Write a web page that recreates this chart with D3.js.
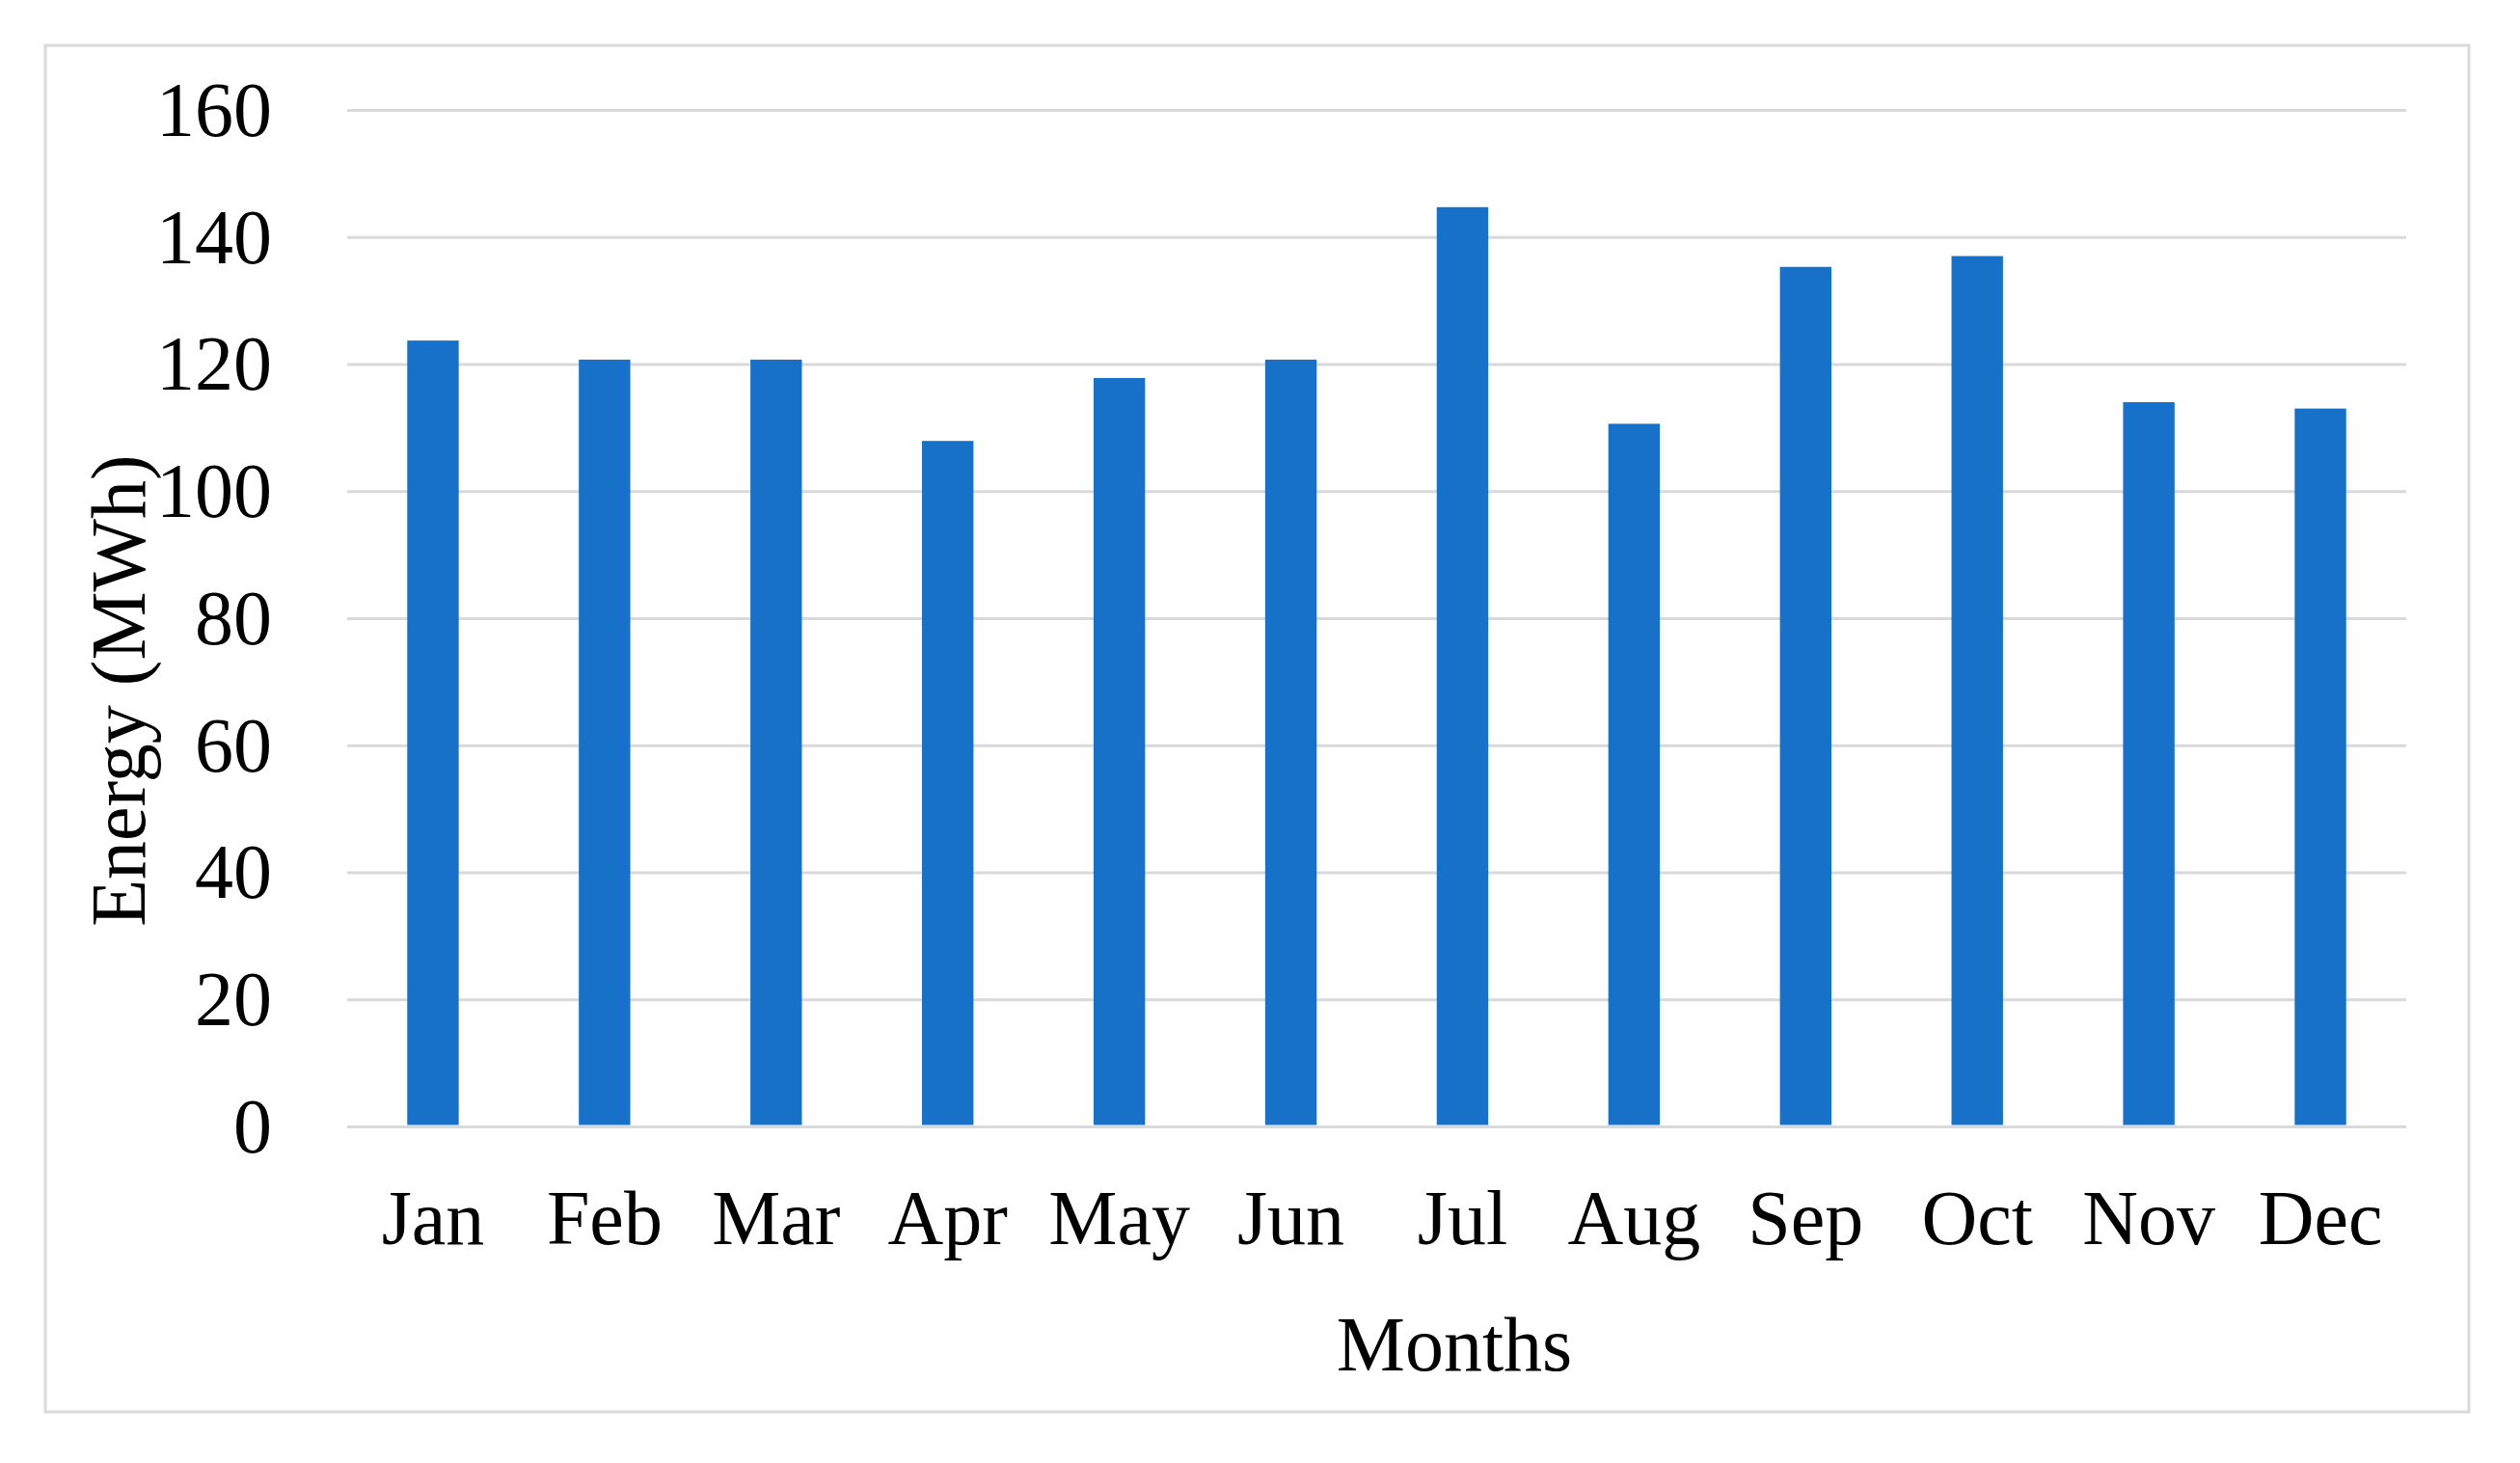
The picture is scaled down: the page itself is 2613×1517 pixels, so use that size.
<!DOCTYPE html>
<html>
<head>
<meta charset="utf-8">
<script src="https://cdn.jsdelivr.net/npm/d3@7"></script>
<style>
  html, body { margin: 0; padding: 0; background: #ffffff; }
  svg { display: block; }
  text { font-family: "Liberation Serif", "Times New Roman", serif; fill: #000; }
</style>
</head>
<body>
<svg id="chart" width="2613" height="1517"></svg>
<script>
const months = ["Jan","Feb","Mar","Apr","May","Jun","Jul","Aug","Sep","Oct","Nov","Dec"];
const energy = [123.7, 120.7, 120.7, 107.9, 117.8, 120.7, 144.7, 110.6, 135.3, 137.0, 114.0, 113.0];
const yTicks = [0, 20, 40, 60, 80, 100, 120, 140, 160];
const xTitle = "Months";
const yTitle = "Energy (MWh)";

const W = 2613, H = 1517;
const plot = { left: 360, right: 2495, top: 114, bottom: 1168 };
const svg = d3.select("#chart");

svg.append("rect").attr("x", 0).attr("y", 0).attr("width", W).attr("height", H).attr("fill", "#fff");
// chart area border
svg.append("rect")
  .attr("x", 47).attr("y", 47).attr("width", 2513).attr("height", 1417)
  .attr("fill", "#fff").attr("stroke", "#d9d9d9").attr("stroke-width", 3);

const x = d3.scaleBand().domain(months).range([plot.left, plot.right])
  .paddingInner(0.70).paddingOuter(0.35);
const y = d3.scaleLinear().domain([0, 160]).range([plot.bottom, plot.top]);

// y axis with gridlines
const yAxis = svg.append("g")
  .attr("transform", `translate(${plot.left},0)`)
  .call(d3.axisLeft(y).tickValues(yTicks).tickSize(-(plot.right - plot.left)).tickPadding(78));
yAxis.select(".domain").remove();
yAxis.selectAll(".tick line").attr("stroke", "#d9d9d9").attr("stroke-width", 3);
yAxis.selectAll(".tick text")
  .attr("font-size", 80).attr("font-family", "Liberation Serif, Times New Roman, serif")
  .attr("fill", "#000").attr("dy", "0.33em");

// bars
svg.append("g").selectAll("rect").data(energy).join("rect")
  .attr("x", (d, i) => x(months[i]))
  .attr("width", x.bandwidth())
  .attr("y", d => y(d))
  .attr("height", d => y(0) - y(d) - 1.5)
  .attr("fill", "#1771c9");

// x axis labels
const xAxis = svg.append("g")
  .attr("transform", `translate(0,${plot.bottom})`)
  .call(d3.axisBottom(x).tickSize(0).tickPadding(0));
xAxis.select(".domain").remove();
xAxis.selectAll(".tick text")
  .attr("font-size", 80).attr("font-family", "Liberation Serif, Times New Roman, serif")
  .attr("fill", "#000").attr("y", 122).attr("dy", 0);

// axis titles
svg.append("text")
  .attr("x", 1508).attr("y", 1421)
  .attr("text-anchor", "middle").attr("font-size", 80)
  .text(xTitle);

svg.append("text")
  .attr("transform", "translate(150,716) rotate(-90)")
  .attr("text-anchor", "middle").attr("font-size", 80)
  .text(yTitle);
</script>
</body>
</html>
